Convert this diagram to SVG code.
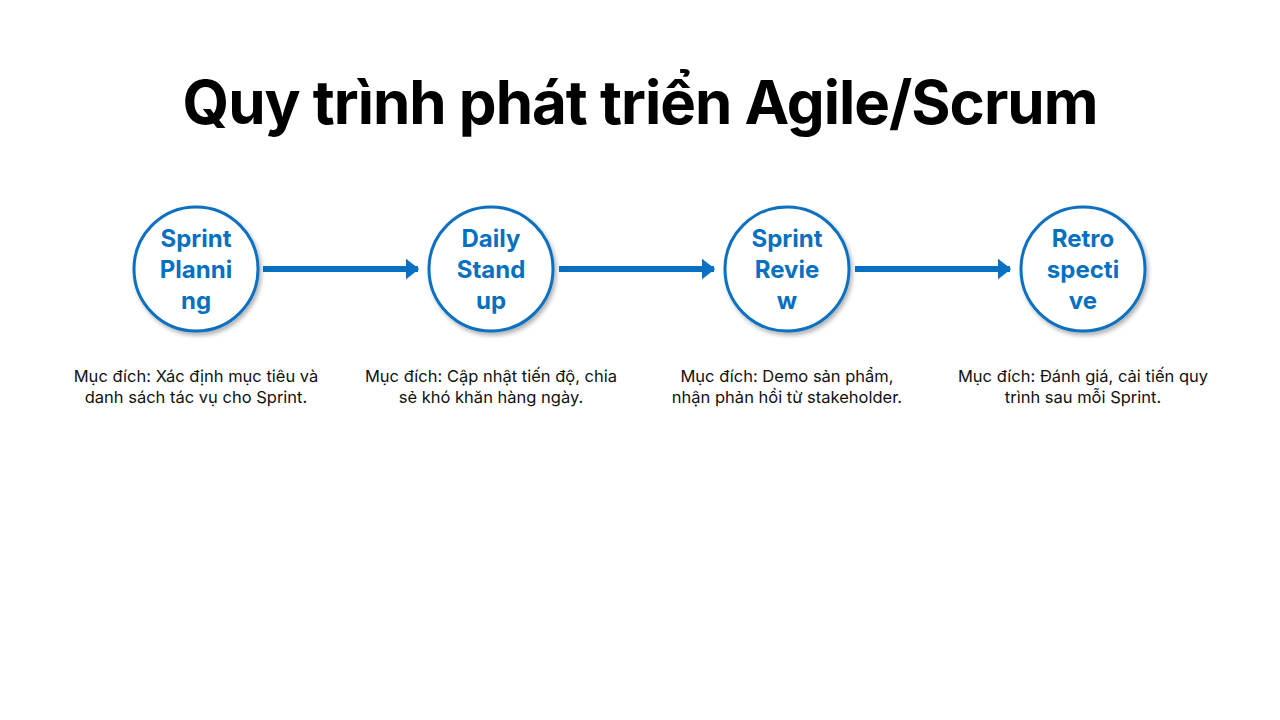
<svg xmlns="http://www.w3.org/2000/svg" width="1280" height="720" viewBox="0 0 1280 720">
<style>
.t{font-family:Inter,"Noto Sans",sans-serif;font-weight:700;font-size:60px;fill:#000;text-anchor:middle;letter-spacing:-1px}
.n circle{fill:#fff;stroke:#0870C0;stroke-width:3;filter:url(#sh)}
.n text{font-family:Inter,"Noto Sans",sans-serif;font-weight:700;font-size:24px;fill:#0870C0;text-anchor:middle}
.d{font-family:Inter,"Noto Sans",sans-serif;font-size:16.5px;fill:#111;text-anchor:middle}
.c line{stroke:#0870C0;stroke-width:6;marker-end:url(#ah)}
</style>
<defs>
<filter id="sh" x="-20%" y="-20%" width="150%" height="150%"><feDropShadow dx="2" dy="3" stdDeviation="2" flood-opacity="0.3"/></filter>
<marker id="ah" markerWidth="4" markerHeight="4" refX="2" refY="2" orient="auto"><path d="M0,0.3 L2.2,2 L0,3.7Z" fill="#0870C0"/></marker>
</defs>
<rect width="1280" height="720" fill="#fff"/>
<text class="t" x="640" y="124">Quy trình phát triển Agile/Scrum</text>
<g class="c">
<line x1="263" y1="269" x2="418" y2="269"/>
<line x1="559" y1="269" x2="714" y2="269"/>
<line x1="855" y1="269" x2="1010" y2="269"/>
</g>
<g id="n1" class="n"><circle cx="196" cy="269" r="62"/><text x="196" y="247">Sprint</text><text x="196" y="278">Planni</text><text x="196" y="309">ng</text></g>
<g id="n2" class="n"><circle cx="491" cy="269" r="62"/><text x="491" y="247">Daily</text><text x="491" y="278">Stand</text><text x="491" y="309">up</text></g>
<g id="n3" class="n"><circle cx="787" cy="269" r="62"/><text x="787" y="247">Sprint</text><text x="787" y="278">Revie</text><text x="787" y="309">w</text></g>
<g id="n4" class="n"><circle cx="1083" cy="269" r="62"/><text x="1083" y="247">Retro</text><text x="1083" y="278">specti</text><text x="1083" y="309">ve</text></g>
<text class="d" x="196" y="382">Mục đích: Xác định mục tiêu và</text><text class="d" x="196" y="403">danh sách tác vụ cho Sprint.</text>
<text class="d" x="491" y="382">Mục đích: Cập nhật tiến độ, chia</text><text class="d" x="491" y="403">sẻ khó khăn hàng ngày.</text>
<text class="d" x="787" y="382">Mục đích: Demo sản phẩm,</text><text class="d" x="787" y="403">nhận phản hồi từ stakeholder.</text>
<text class="d" x="1083" y="382">Mục đích: Đánh giá, cải tiến quy</text><text class="d" x="1083" y="403">trình sau mỗi Sprint.</text>
</svg>
